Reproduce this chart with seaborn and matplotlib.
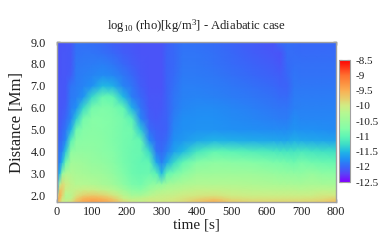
import numpy as np
import matplotlib
matplotlib.use("Agg")
import matplotlib.pyplot as plt
import seaborn as sns

title = r"log$_{10}$ (rho)[kg/m$^{3}$] - Adiabatic case"
xlabel = "time [s]"
ylabel = "Distance [Mm]"
xticks = [0, 100, 200, 300, 400, 500, 600, 700, 800]
yticks = [2, 3, 4, 5, 6, 7, 8, 9]
cticks = [-12.5, -12, -11.5, -11, -10.5, -10, -9.5, -9, -8.5]
ctick_labels = ["-12.5", "-12", "-11.5", "-11", "-10.5", "-10", "-9.5", "-9", "-8.5"]
colors = ["#8000ff", "#5c40f8", "#3868f8", "#2090f4", "#20b8e4", "#40e0c4", "#60f6b4", "#84fda8",
          "#9cfa9c", "#b4f892", "#d0ec84", "#e8cc6c", "#fab054", "#fc9040", "#ff7030", "#ff3818", "#ff0000"]

heights = [1.68, 1.85, 2, 2.25, 2.5, 3, 3.5, 4, 4.5, 5, 5.5, 6, 6.5, 7, 7.5, 8, 8.5, 9]
times = [0, 8, 15, 25, 40, 55, 75, 100, 130, 160, 190, 215, 240, 265, 285, 300, 315, 335, 360, 400,
         450, 500, 560, 620, 640, 660, 680, 700, 730, 760, 800]
rho_columns = [
    [-9.6, -9.4, -10.2, -11.5, -11.8, -11.9, -11.95, -12.0, -12.05, -12.08, -12.1, -12.1, -12.12, -12.12, -12.12, -12.12, -12.12, -12.12],
    [-9.75, -9.6, -9.5, -9.7, -10.2, -11.5, -11.82, -11.9, -12.0, -12.05, -12.08, -12.1, -12.1, -12.1, -12.12, -12.12, -12.12, -12.12],
    [-10.0, -9.95, -9.8, -9.75, -9.85, -10.6, -11.5, -11.82, -11.95, -12.0, -12.05, -12.08, -12.1, -12.1, -12.1, -12.1, -12.1, -12.12],
    [-10.1, -10.2, -10.25, -10.05, -10.0, -10.3, -10.9, -11.4, -11.78, -11.9, -12.0, -12.05, -12.08, -12.08, -12.1, -12.1, -12.1, -12.1],
    [-9.95, -10.15, -10.2, -10.15, -10.15, -10.3, -10.45, -10.65, -11.05, -11.55, -11.8, -11.85, -11.88, -11.92, -12.05, -12.08, -12.08, -12.1],
    [-9.65, -9.8, -9.95, -10.1, -10.25, -10.35, -10.45, -10.6, -10.7, -10.9, -11.4, -11.75, -11.85, -11.87, -11.88, -11.9, -11.93, -11.95],
    [-9.45, -9.55, -9.8, -10.05, -10.25, -10.4, -10.5, -10.6, -10.68, -10.75, -10.85, -11.3, -11.72, -11.82, -11.85, -11.88, -11.92, -11.95],
    [-9.35, -9.5, -9.75, -10.05, -10.28, -10.45, -10.55, -10.62, -10.66, -10.7, -10.72, -10.85, -11.3, -11.75, -11.82, -11.86, -11.92, -11.96],
    [-9.4, -9.55, -9.8, -10.15, -10.35, -10.5, -10.6, -10.68, -10.7, -10.72, -10.75, -10.78, -10.95, -11.5, -11.78, -11.85, -11.95, -12.0],
    [-9.55, -9.75, -9.95, -10.25, -10.45, -10.6, -10.7, -10.75, -10.78, -10.78, -10.78, -10.82, -11.0, -11.55, -11.8, -11.9, -12.0, -12.05],
    [-9.85, -10.05, -10.2, -10.45, -10.65, -10.78, -10.83, -10.85, -10.85, -10.85, -10.85, -10.98, -11.5, -11.82, -11.9, -12.0, -12.05, -12.08],
    [-10.0, -10.2, -10.4, -10.65, -10.8, -10.9, -10.92, -10.92, -10.9, -10.88, -11.05, -11.55, -11.85, -11.92, -12.0, -12.05, -12.08, -12.1],
    [-10.1, -10.15, -10.4, -10.7, -10.85, -10.95, -10.98, -10.95, -10.98, -11.4, -11.8, -11.92, -12.0, -12.05, -12.08, -12.1, -12.11, -12.12],
    [-10.0, -10.05, -10.25, -10.5, -10.7, -10.92, -11.0, -11.3, -11.78, -11.98, -12.05, -12.08, -12.1, -12.11, -12.12, -12.12, -12.12, -12.12],
    [-9.98, -10.05, -10.15, -10.35, -10.6, -11.05, -11.6, -11.92, -12.0, -12.04, -12.08, -12.1, -12.1, -12.11, -12.12, -12.12, -12.12, -12.12],
    [-9.98, -10.05, -10.12, -10.3, -10.6, -11.5, -11.85, -11.98, -12.03, -12.05, -12.06, -12.08, -12.1, -12.11, -12.12, -12.12, -12.12, -12.12],
    [-9.98, -10.03, -10.1, -10.25, -10.45, -11.0, -11.6, -11.85, -11.96, -12.02, -12.03, -12.03, -12.03, -12.03, -12.03, -12.03, -12.03, -12.05],
    [-9.95, -10.0, -10.08, -10.22, -10.38, -10.85, -11.3, -11.65, -11.75, -11.8, -11.85, -11.9, -11.92, -11.95, -11.98, -12.0, -12.0, -12.0],
    [-9.88, -9.95, -10.03, -10.18, -10.33, -10.7, -11.0, -11.5, -11.7, -11.74, -11.76, -11.8, -11.83, -11.85, -11.88, -11.9, -11.92, -11.93],
    [-9.7, -9.85, -9.98, -10.12, -10.28, -10.5, -10.75, -11.2, -11.6, -11.72, -11.75, -11.78, -11.82, -11.85, -11.88, -11.9, -11.92, -11.94],
    [-9.5, -9.75, -9.95, -10.12, -10.27, -10.47, -10.65, -10.98, -11.52, -11.72, -11.75, -11.78, -11.83, -11.87, -11.9, -11.93, -11.95, -11.98],
    [-9.75, -9.9, -10.02, -10.15, -10.28, -10.47, -10.68, -11.02, -11.55, -11.74, -11.77, -11.8, -11.86, -11.9, -11.95, -11.98, -12.0, -12.03],
    [-9.82, -9.95, -10.05, -10.18, -10.3, -10.5, -10.72, -11.08, -11.58, -11.76, -11.8, -11.85, -11.9, -11.95, -12.0, -12.03, -12.05, -12.07],
    [-9.82, -9.95, -10.05, -10.2, -10.33, -10.55, -10.8, -11.15, -11.6, -11.78, -11.85, -11.9, -11.95, -12.0, -12.04, -12.07, -12.1, -12.12],
    [-9.82, -9.95, -10.05, -10.2, -10.35, -10.58, -10.82, -11.18, -11.62, -11.78, -11.86, -11.92, -11.98, -12.02, -12.06, -12.1, -12.12, -11.98],
    [-9.82, -9.95, -10.05, -10.2, -10.37, -10.6, -10.85, -11.2, -11.62, -11.78, -11.86, -11.92, -11.98, -12.02, -12.0, -11.98, -11.96, -11.95],
    [-9.82, -9.95, -10.05, -10.2, -10.37, -10.62, -10.9, -11.2, -11.55, -11.72, -11.78, -11.85, -11.87, -11.9, -11.92, -11.94, -11.96, -11.98],
    [-9.82, -9.95, -10.05, -10.22, -10.38, -10.63, -10.82, -11.15, -11.58, -11.74, -11.8, -11.84, -11.87, -11.9, -11.93, -11.95, -11.97, -11.99],
    [-9.8, -9.93, -10.05, -10.2, -10.35, -10.55, -10.88, -11.2, -11.6, -11.75, -11.8, -11.84, -11.87, -11.9, -11.93, -11.95, -11.97, -11.99],
    [-9.75, -9.9, -9.97, -10.18, -10.38, -10.65, -10.92, -11.22, -11.62, -11.76, -11.8, -11.84, -11.87, -11.9, -11.93, -11.95, -11.97, -11.99],
    [-9.6, -9.8, -10.0, -10.2, -10.4, -10.67, -10.95, -11.25, -11.63, -11.77, -11.8, -11.84, -11.87, -11.9, -11.93, -11.95, -11.97, -11.99],
]

sns.set_theme(style="ticks", rc={"axes.linewidth": 1.0})
plt.rcParams["font.family"] = ["Liberation Serif", "DejaVu Serif"]
plt.rcParams["mathtext.fontset"] = "custom"
plt.rcParams["mathtext.rm"] = "Liberation Serif"
plt.rcParams["mathtext.default"] = "rm"

W, H = 381, 245
fig = plt.figure(figsize=(W / 100, H / 100), dpi=100)
ax = fig.add_axes([57 / W, 1 - 202 / H, 279 / W, 160 / H])
cax = fig.add_axes([339 / W, 1 - 182 / H, 11 / W, 122 / H])

cmap = sns.blend_palette(colors, n_colors=256, as_cmap=True)
grid = np.array(rho_columns).T
mesh = ax.pcolormesh(times, heights, grid, cmap=cmap, vmin=-12.5, vmax=-8.5,
                     shading="gouraud", rasterized=True)

ax.set_xlim(0, 800)
ax.set_ylim(1.68, 9)
ax.set_xticks(xticks)
ax.set_yticks(yticks)
ax.set_yticklabels([f"{v:.1f}" for v in yticks])
ax.tick_params(axis="both", direction="in", length=2.5, width=1, color="#303848",
               top=True, right=True, labelsize=8.8, labelcolor="#202020", pad=3)
ax.tick_params(axis="y", pad=8)
for s in ax.spines.values():
    s.set_color("#a0a0a0")
    s.set_visible(True)
ax.set_title(title, fontsize=9.1, color="#202020", pad=9)
ax.set_xlabel(xlabel, fontsize=11, color="#202020", labelpad=0.5)
ax.set_ylabel(ylabel, fontsize=12, color="#202020", labelpad=4)

cb = fig.colorbar(mesh, cax=cax, ticks=cticks)
cb.ax.set_yticklabels(ctick_labels)
cb.ax.tick_params(direction="in", length=2, width=0.8, color="#606060", left=True, right=True,
                  labelsize=8, labelcolor="#202020", pad=4)
cb.outline.set_edgecolor("#a0a0a0")
cb.outline.set_linewidth(0.8)

fig.savefig("out.png", dpi=100)
